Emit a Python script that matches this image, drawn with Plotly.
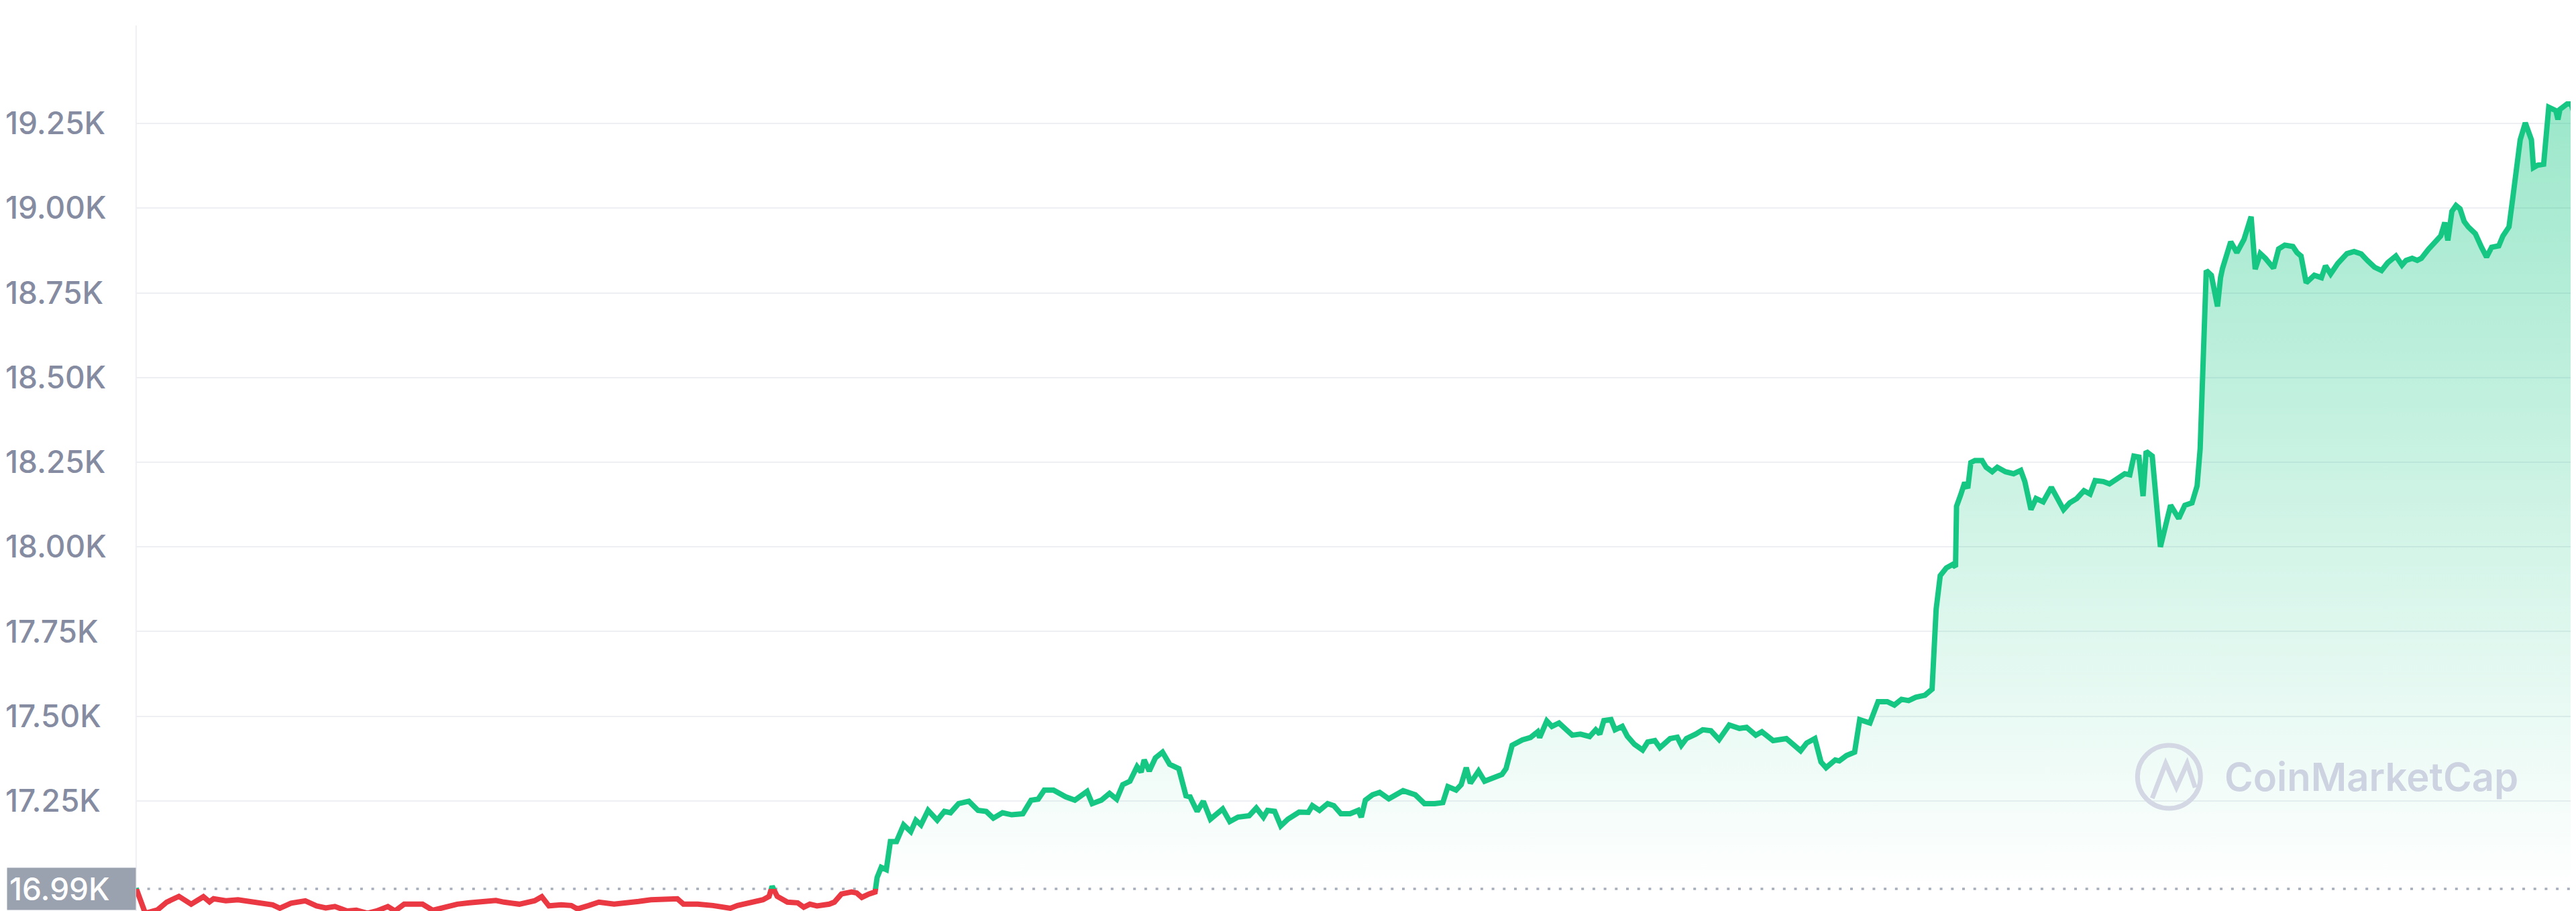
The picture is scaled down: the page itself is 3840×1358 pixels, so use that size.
import plotly.graph_objects as go

# ---- data (hours since start, price in USD) ----
HOURS = [
    0.00, 0.04, 0.09, 0.21, 0.30, 0.42, 0.54, 0.66, 0.72, 0.76, 0.88, 1.00, 1.11, 1.23, 1.34, 1.41,
    1.52, 1.66, 1.77, 1.86, 1.95, 2.07, 2.16, 2.27, 2.36, 2.47, 2.54, 2.63, 2.81, 2.91, 3.04, 3.15,
    3.27, 3.38, 3.53, 3.61, 3.76, 3.91, 3.98, 4.05, 4.17, 4.27, 4.33, 4.44, 4.54, 4.69, 4.81, 4.93,
    5.05, 5.17, 5.31, 5.37, 5.51, 5.66, 5.83, 5.90, 6.02, 6.15, 6.21, 6.24, 6.29, 6.39, 6.49, 6.55,
    6.61, 6.68, 6.80, 6.85, 6.92, 7.02, 7.07, 7.12, 7.19, 7.25, 7.27, 7.31, 7.36, 7.40, 7.46, 7.53,
    7.60, 7.65, 7.70, 7.77, 7.86, 7.93, 7.99, 8.07, 8.17, 8.26, 8.34, 8.41, 8.50, 8.59, 8.70, 8.78,
    8.85, 8.91, 9.00, 9.12, 9.21, 9.33, 9.38, 9.47, 9.55, 9.62, 9.68, 9.75, 9.82, 9.86, 9.89, 9.94,
    10.00, 10.07, 10.14, 10.23, 10.30, 10.34, 10.41, 10.47, 10.54, 10.61, 10.66, 10.73, 10.81, 10.92,
    10.99, 11.06, 11.10, 11.17, 11.23, 11.30, 11.41, 11.50, 11.54, 11.61, 11.69, 11.75, 11.82, 11.91,
    11.99, 12.02, 12.06, 12.13, 12.20, 12.29, 12.43, 12.55, 12.64, 12.74, 12.82, 12.87, 12.95, 13.00,
    13.05, 13.09, 13.17, 13.23, 13.31, 13.40, 13.44, 13.50, 13.60, 13.68, 13.75, 13.77, 13.84, 13.89,
    13.96, 14.03, 14.09, 14.17, 14.26, 14.32, 14.36, 14.40, 14.47, 14.51, 14.58, 14.63, 14.70, 14.78,
    14.83, 14.90, 14.95, 15.05, 15.12, 15.16, 15.21, 15.30, 15.37, 15.45, 15.53, 15.63, 15.73, 15.80,
    15.89, 15.95, 16.06, 16.19, 16.26, 16.33, 16.39, 16.47, 16.53, 16.58, 16.67, 16.71, 16.78, 16.86,
    16.91, 17.01, 17.09, 17.18, 17.25, 17.32, 17.39, 17.46, 17.55, 17.62, 17.66, 17.67, 17.70, 17.76,
    17.82, 17.85, 17.86, 17.90, 17.94, 17.97, 18.00, 18.04, 18.11, 18.15, 18.21, 18.26, 18.34, 18.42,
    18.49, 18.53, 18.59, 18.64, 18.71, 18.79, 18.91, 18.97, 19.04, 19.11, 19.17, 19.22, 19.30, 19.36,
    19.45, 19.51, 19.56, 19.60, 19.65, 19.69, 19.72, 19.78, 19.86, 19.96, 20.04, 20.10, 20.17, 20.22,
    20.25, 20.28, 20.31, 20.36, 20.42, 20.45, 20.47, 20.55, 20.61, 20.68, 20.75, 20.79, 20.84, 20.89,
    20.97, 21.02, 21.08, 21.16, 21.20, 21.24, 21.29, 21.37, 21.44, 21.48, 21.53, 21.60, 21.69, 21.76,
    21.83, 21.89, 21.96, 22.03, 22.09, 22.17, 22.23, 22.27, 22.33, 22.38, 22.42, 22.49, 22.55, 22.61,
    22.65, 22.68, 22.72, 22.76, 22.80, 22.84, 22.88, 22.95, 23.01, 23.06, 23.11, 23.18, 23.22, 23.28,
    23.32, 23.39, 23.44, 23.50, 23.52, 23.56, 23.62, 23.67, 23.74, 23.76, 23.78, 23.85, 23.89, 23.92,
    23.95, 23.99,
]

PRICES = [
    16992, 16962, 16918, 16928, 16951, 16968, 16945, 16967, 16952, 16961, 16955, 16958, 16953, 16948, 16943, 16933,
    16948, 16955, 16940, 16934, 16938, 16925, 16927, 16918, 16925, 16938, 16925, 16945, 16945, 16927, 16938, 16945,
    16949, 16951, 16956, 16951, 16945, 16955, 16967, 16940, 16943, 16941, 16931, 16941, 16951, 16945, 16951, 16953,
    16958, 16958, 16961, 16945, 16945, 16941, 16933, 16941, 16951, 16958, 16968, 16998, 16968, 16951, 16949, 16936,
    16945, 16940, 16945, 16951, 16975, 16981, 16978, 16965, 16975, 16981, 17024, 17054, 17047, 17130, 17130, 17179,
    17159, 17193, 17179, 17222, 17193, 17219, 17215, 17242, 17249, 17222, 17219, 17199, 17215, 17209, 17212, 17252,
    17255, 17282, 17282, 17262, 17252, 17278, 17242, 17252, 17272, 17255, 17298, 17308, 17351, 17335, 17371, 17338,
    17377, 17394, 17358, 17345, 17265, 17262, 17219, 17249, 17196, 17215, 17226, 17189, 17202, 17206,
    17229, 17202, 17222, 17219, 17176, 17196, 17217, 17216, 17236, 17222, 17242, 17236, 17212, 17212,
    17222, 17202, 17252, 17268, 17275, 17256, 17280, 17268, 17242, 17242, 17245, 17292, 17282, 17298,
    17348, 17302, 17338, 17308, 17318, 17328, 17345, 17414, 17430, 17437, 17454, 17437, 17486, 17470,
    17480, 17463, 17444, 17447, 17440, 17460, 17447, 17487, 17490, 17460, 17470, 17441, 17417, 17400,
    17424, 17428, 17407, 17434, 17438, 17414, 17434, 17447, 17460, 17457, 17431, 17474, 17464, 17467,
    17444, 17454, 17428, 17434, 17414, 17398, 17421, 17434, 17365, 17348, 17371, 17368, 17384, 17394,
    17490, 17480, 17543, 17543, 17533, 17550, 17546, 17556, 17562, 17580, 17816, 17849, 17915, 17938,
    17948, 17941, 18120, 18153, 18190, 18173, 18249, 18255, 18255, 18235, 18222, 18235, 18222, 18216,
    18226, 18193, 18110, 18143, 18133, 18176, 18110, 18130, 18143, 18166, 18156, 18196, 18193, 18186,
    18206, 18216, 18213, 18268, 18265, 18150, 18282, 18268, 18000, 18123, 18084, 18123, 18130, 18180,
    18290, 18611, 18816, 18802, 18710, 18795, 18823, 18901, 18869, 18908, 18975, 18820, 18866, 18852,
    18823, 18880, 18891, 18887, 18869, 18859, 18780, 18802, 18795, 18830, 18806, 18837, 18866, 18872,
    18865, 18846, 18826, 18816, 18839, 18859, 18832, 18846, 18852, 18846, 18852, 18879, 18899, 18918,
    18958, 18905, 18991, 19008, 18998, 18961, 18945, 18925, 18885, 18856, 18885, 18889, 18918, 18945,
    19037, 19202, 19252, 19202, 19120, 19127, 19130, 19298, 19288, 19262, 19292, 19308, 19308, 19278,
    19354, 19374,
]

OPEN_PRICE = 16990
OPEN_LABEL = "16.99K"
TICK_VALUES = [17250, 17500, 17750, 18000, 18250, 18500, 18750, 19000, 19250]
TICK_LABELS = ["17.25K", "17.50K", "17.75K", "18.00K", "18.25K", "18.50K", "18.75K", "19.00K", "19.25K"]
WATERMARK = "CoinMarketCap"

# ---- styling / layout ----
W, H = 3840, 1358
Y_MIN, Y_MAX = 16909, 19599
AXIS_PX = 193            # x pixel of the y-axis line
GREEN = "#16C784"
RED = "#EA3943"
LINE_W = 8
FONT = "Inter"
LABEL_SIZE = 46

base_frac = (OPEN_PRICE - Y_MIN) / (Y_MAX - Y_MIN)


def px(x):
    return x / W


def py(y):
    return (H - y) / H


fig = go.Figure()

# invisible baseline for the fill
fig.add_trace(go.Scatter(
    x=[HOURS[0], HOURS[-1]], y=[OPEN_PRICE, OPEN_PRICE], mode="lines",
    line=dict(width=0, color="rgba(0,0,0,0)"), hoverinfo="skip", xaxis="x", yaxis="y",
))
# gradient fill between price and baseline
fig.add_trace(go.Scatter(
    x=HOURS, y=PRICES, mode="lines", line=dict(width=0, color="rgba(0,0,0,0)"),
    fill="tonexty",
    fillgradient=dict(
        type="vertical", start=OPEN_PRICE, stop=19400,
        colorscale=[[0, "rgba(22,199,132,0)"], [1, "rgba(22,199,132,0.44)"]],
    ),
    hoverinfo="skip", xaxis="x", yaxis="y",
))
# green line (clipped to above the opening price by its subplot)
fig.add_trace(go.Scatter(
    x=HOURS, y=PRICES, mode="lines", line=dict(width=LINE_W, color=GREEN),
    hoverinfo="skip", xaxis="x", yaxis="y2",
))
# red line (clipped to below the opening price by its subplot)
fig.add_trace(go.Scatter(
    x=HOURS, y=PRICES, mode="lines", line=dict(width=LINE_W, color=RED),
    hoverinfo="skip", xaxis="x", yaxis="y3",
))

fig.update_layout(
    width=W, height=H,
    margin=dict(l=0, r=0, t=0, b=0),
    paper_bgcolor="white",
    plot_bgcolor="rgba(0,0,0,0)",
    showlegend=False,
    xaxis=dict(domain=[AXIS_PX / W, 1], range=[HOURS[0], HOURS[-1]], visible=False, anchor="y"),
    yaxis=dict(
        domain=[0, 1], range=[Y_MIN, Y_MAX], anchor="free", position=0,
        tickvals=TICK_VALUES, ticktext=TICK_LABELS,
        ticklabelposition="inside", ticks="", ticklabelstandoff=-6,
        showgrid=True, gridcolor="#EDEFF3", gridwidth=2,
        zeroline=False, showline=False,
        tickfont=dict(family=FONT, size=LABEL_SIZE, color="#858CA2", weight=500),
    ),
    yaxis2=dict(domain=[base_frac, 1], range=[OPEN_PRICE, Y_MAX], anchor="x", visible=False),
    yaxis3=dict(domain=[0, base_frac], range=[Y_MIN, OPEN_PRICE], anchor="x", visible=False),
)

shapes = [
    # y-axis line
    dict(type="line", xref="paper", yref="paper", x0=px(AXIS_PX), x1=px(AXIS_PX), y0=0, y1=py(30),
         line=dict(color="#EEF0F3", width=2), layer="below"),
    # dotted opening-price line
    dict(type="line", xref="x domain", yref="y", x0=0, x1=1, y0=OPEN_PRICE, y1=OPEN_PRICE,
         line=dict(color="#A7AEBB", width=3.5, dash="4px,12.7px"), layer="below"),
    # watermark logo ring
    dict(type="circle", xref="paper", yref="paper",
         x0=px(3178), x1=px(3272), y0=py(1197), y1=py(1103),
         line=dict(color="#D3D8E4", width=7)),
    # watermark logo "M"
    dict(type="path", xref="paper", yref="paper",
         path="M {:.5f},{:.5f} L {:.5f},{:.5f} L {:.5f},{:.5f} L {:.5f},{:.5f} L {:.5f},{:.5f}".format(
             px(3200), py(1182), px(3220), py(1130), px(3236), py(1166),
             px(3252), py(1130), px(3264), py(1166)),
         line=dict(color="#D3D8E4", width=7)),
]
fig.update_layout(shapes=shapes)

fig.add_annotation(
    text=OPEN_LABEL, xref="paper", x=0, xanchor="left", yref="y", y=OPEN_PRICE, yanchor="middle",
    showarrow=False, bgcolor="#9AA1AF", borderpad=3, width=185, height=56, align="left",
    font=dict(family=FONT, size=LABEL_SIZE, color="white", weight=500),
)
fig.add_annotation(
    text=WATERMARK, xref="paper", x=px(3306), xanchor="left", yref="paper", y=py(1150), yanchor="middle",
    showarrow=False, font=dict(family="Inter", size=58, color="#CED3E1", weight=600),
)

fig.write_html("out.html")
